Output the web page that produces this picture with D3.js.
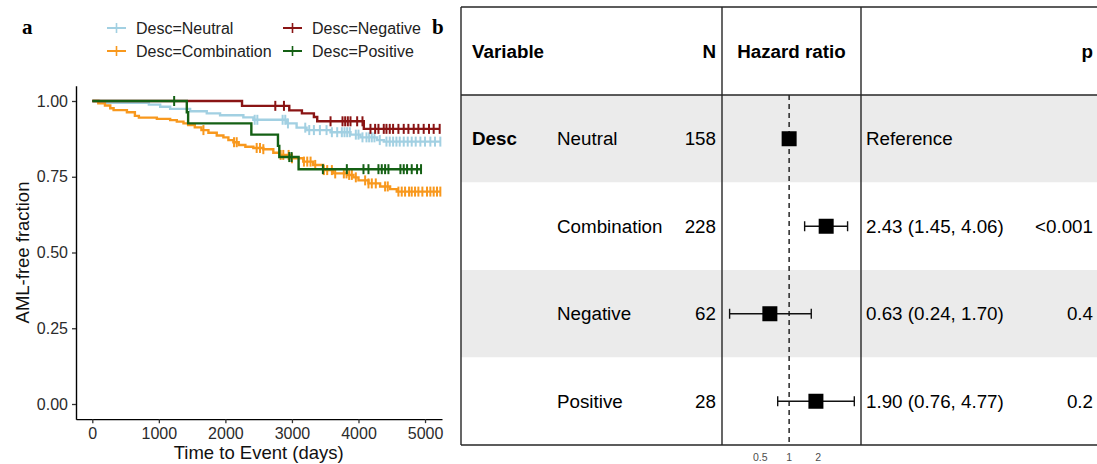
<!DOCTYPE html>
<html>
<head>
<meta charset="utf-8">
<script src="https://cdn.jsdelivr.net/npm/d3@7"></script>
<style>
  body { margin: 0; background: #fff; }
  svg { display: block; font-family: "Liberation Sans", Arial, sans-serif; }
</style>
</head>
<body>
<svg id="chart" width="1097" height="464"></svg>
<script>
// ---- panel a: Kaplan-Meier data ----
var groups = ["Neutral", "Combination", "Negative", "Positive"];
var groupColors = ["#a2d0e2", "#f8981d", "#8a1414", "#146014"];

var neutralTimes = [100, 850, 1020, 1170, 1470, 1720, 1920, 2270, 2420, 2920, 3070, 3220, 3580, 3880, 4030, 4280, 4380];
var neutralSurv = [0.994, 0.988, 0.981, 0.974, 0.966, 0.959, 0.953, 0.946, 0.938, 0.926, 0.912, 0.904, 0.897, 0.889, 0.880, 0.871, 0.866];
var neutralCensor = [2440, 2480, 2860, 2900, 2940, 3200, 3260, 3330, 3420, 3520, 3600, 3680, 3750, 3790, 3830, 3870, 3960, 4000, 4060, 4120, 4160, 4200, 4240, 4320, 4420, 4470, 4520, 4570, 4620, 4680, 4740, 4800, 4860, 4930, 5000, 5080, 5150, 5230];

var combinationTimes = [90, 190, 270, 320, 520, 640, 700, 970, 1170, 1270, 1370, 1440, 1540, 1640, 1745, 1870, 1970, 2045, 2120, 2200, 2300, 2420, 2570, 2720, 2820, 2970, 3170, 3320, 3470, 3620, 3830, 3925, 4000, 4150, 4325, 4475, 4575];
var combinationSurv = [0.992, 0.985, 0.976, 0.970, 0.963, 0.951, 0.945, 0.941, 0.937, 0.932, 0.926, 0.921, 0.913, 0.904, 0.895, 0.886, 0.880, 0.871, 0.864, 0.855, 0.849, 0.845, 0.841, 0.829, 0.822, 0.811, 0.800, 0.789, 0.772, 0.761, 0.756, 0.748, 0.738, 0.728, 0.718, 0.709, 0.701];
var combinationCensor = [1670, 2130, 2170, 2470, 2520, 2570, 2830, 2870, 2950, 3000, 3180, 3230, 3280, 3350, 3480, 3530, 3600, 3650, 3780, 3820, 3860, 3900, 3960, 4100, 4150, 4200, 4260, 4400, 4440, 4600, 4650, 4700, 4760, 4800, 4850, 4900, 4960, 5030, 5080, 5130, 5180, 5230];

var negativeTimes = [2250, 2960, 3150, 3330, 3380, 4080];
var negativeSurv = [0.984, 0.969, 0.959, 0.947, 0.933, 0.908];
var negativeCensor = [2750, 2880, 3580, 3760, 3800, 3840, 3880, 3980, 4060, 4180, 4250, 4300, 4380, 4420, 4470, 4520, 4600, 4680, 4750, 4830, 4900, 4980, 5060, 5130, 5220];

var positiveTimes = [1420, 1440, 2390, 2790, 2810, 3100];
var positiveSurv = [0.963, 0.926, 0.889, 0.852, 0.815, 0.775];
var positiveCensor = [1230, 2960, 2995, 3465, 3825, 4075, 4150, 4300, 4350, 4400, 4450, 4630, 4680, 4730, 4800, 4880, 4940];

var kmXTicks = [0, 1000, 2000, 3000, 4000, 5000];
var kmYTicks = [0, 0.25, 0.5, 0.75, 1];

// ---- panel b: forest plot data ----
var levels = ["Neutral", "Combination", "Negative", "Positive"];
var nPatients = [158, 228, 62, 28];
var hr = [1, 2.43, 0.63, 1.90];
var hrLow = [null, 1.45, 0.24, 0.76];
var hrHigh = [null, 4.06, 1.70, 4.77];
var hrText = ["Reference", "2.43 (1.45, 4.06)", "0.63 (0.24, 1.70)", "1.90 (0.76, 4.77)"];
var pText = ["", "<0.001", "0.4", "0.2"];
var hrTicks = [0.5, 1, 2];

var svg = d3.select("#chart");

// ================= panel a =================
var xScale = d3.scaleLinear().domain([-245, 5255]).range([76, 442]);
var yScale = d3.scaleLinear().domain([-0.05, 1.05]).range([419.15, 85.85]);

var curves = [
  {name: "Neutral", times: neutralTimes, surv: neutralSurv, censor: neutralCensor},
  {name: "Combination", times: combinationTimes, surv: combinationSurv, censor: combinationCensor},
  {name: "Negative", times: negativeTimes, surv: negativeSurv, censor: negativeCensor},
  {name: "Positive", times: positiveTimes, surv: positiveSurv, censor: positiveCensor}
];

function survAt(c, t) {
  var s = 1;
  c.times.forEach(function(ti, i) { if (ti <= t) s = c.surv[i]; });
  return s;
}

var line = d3.line()
    .x(d => xScale(d[0]))
    .y(d => yScale(d[1]))
    .curve(d3.curveStepAfter);

var gA = svg.append("g");

curves.forEach(function(c, k) {
  var end = d3.max(c.censor.concat(c.times));
  var pts = [[0, 1]].concat(c.times.map((t, i) => [t, c.surv[i]]));
  pts.push([end, c.surv[c.surv.length - 1]]);
  var col = groupColors[k];
  gA.append("path")
      .attr("d", line(pts))
      .attr("fill", "none")
      .attr("stroke", col)
      .attr("stroke-width", 2.4);
  gA.selectAll(null)
    .data(c.censor)
    .enter().append("line")
      .attr("x1", d => xScale(d))
      .attr("x2", d => xScale(d))
      .attr("y1", d => yScale(survAt(c, d)) - 5)
      .attr("y2", d => yScale(survAt(c, d)) + 5)
      .attr("stroke", col)
      .attr("stroke-width", 2);
});

var xAxis = d3.axisBottom(xScale).tickValues(kmXTicks).tickFormat(d3.format("d"))
    .tickSize(4).tickSizeOuter(0).tickPadding(4);
var yAxis = d3.axisLeft(yScale).tickValues(kmYTicks).tickFormat(d3.format(".2f"))
    .tickSize(4).tickSizeOuter(0).tickPadding(4);

var gx = svg.append("g").attr("transform", "translate(0,419.15)").call(xAxis);
var gy = svg.append("g").attr("transform", "translate(76,0)").call(yAxis);
[gx, gy].forEach(function(g) {
  g.select(".domain").attr("stroke", "#000").attr("stroke-width", 1.4);
  g.selectAll(".tick line").attr("stroke", "#333").attr("stroke-width", 1.3);
  g.selectAll(".tick text").attr("font-size", 16).attr("fill", "#2b2b2b")
    .attr("font-family", "Liberation Sans, Arial, sans-serif");
});

svg.append("text")
    .attr("x", xScale(2500)).attr("y", 459)
    .attr("text-anchor", "middle")
    .attr("font-size", 18.5).attr("fill", "#111")
    .text("Time to Event (days)");

svg.append("text")
    .attr("transform", "translate(29," + yScale(0.5) + ") rotate(-90)")
    .attr("text-anchor", "middle")
    .attr("font-size", 18.5).attr("fill", "#111")
    .text("AML-free fraction");

// legend (filled column-wise, 2 columns)
var legend = svg.append("g");
groups.forEach(function(g, i) {
  var lx = i < 2 ? 107 : 283, ly = i % 2 === 0 ? 28 : 51;
  var it = legend.append("g").attr("transform", "translate(" + lx + "," + ly + ")");
  it.append("line").attr("x1", 0).attr("x2", 19).attr("y1", 0).attr("y2", 0)
    .attr("stroke", groupColors[i]).attr("stroke-width", 2);
  it.append("line").attr("x1", 9.5).attr("x2", 9.5).attr("y1", -5).attr("y2", 5)
    .attr("stroke", groupColors[i]).attr("stroke-width", 1.6);
  it.append("text").attr("x", 29).attr("y", 0).attr("dy", "0.35em")
    .attr("font-size", 16).attr("fill", "#222")
    .text("Desc=" + g);
});

// panel letters
svg.append("text").attr("x", 22).attr("y", 34)
    .attr("font-family", "Liberation Serif, Times New Roman, serif")
    .attr("font-weight", "bold").attr("font-size", 21).text("a");
svg.append("text").attr("x", 432).attr("y", 34)
    .attr("font-family", "Liberation Serif, Times New Roman, serif")
    .attr("font-weight", "bold").attr("font-size", 21).text("b");

// ================= panel b =================
var tblLeft = 461, tblRight = 1097, tblTop = 7, headBottom = 95, tblBottom = 445;
var colN = 722, colEst = 861;
var rowScale = d3.scaleBand().domain(levels).range([headBottom, tblBottom]);
var hrScale = d3.scaleLog().domain([0.2, 5.6]).range([colN, colEst]);

var gB = svg.append("g");
var lineCol = "#262626";

gB.selectAll(".band")
  .data(levels)
  .enter().append("rect")
    .attr("x", tblLeft).attr("width", tblRight - tblLeft)
    .attr("y", d => rowScale(d)).attr("height", rowScale.bandwidth())
    .attr("fill", (d, i) => i % 2 === 0 ? "#ebebeb" : "#fff");

// grid lines
[[tblLeft, tblTop, tblRight + 5, tblTop],
 [tblLeft, headBottom, tblRight + 5, headBottom],
 [tblLeft, tblBottom, tblRight + 5, tblBottom]].forEach(function(l) {
  gB.append("line").attr("x1", l[0]).attr("y1", l[1]).attr("x2", l[2]).attr("y2", l[3])
    .attr("stroke", lineCol).attr("stroke-width", 1.4);
});
[tblLeft, colN, colEst].forEach(function(x) {
  gB.append("line").attr("x1", x).attr("x2", x).attr("y1", tblTop).attr("y2", tblBottom)
    .attr("stroke", lineCol).attr("stroke-width", 1.4);
});

// reference line
gB.append("line")
    .attr("x1", hrScale(1)).attr("x2", hrScale(1))
    .attr("y1", headBottom).attr("y2", tblBottom)
    .attr("stroke", lineCol).attr("stroke-width", 1.5)
    .attr("stroke-dasharray", "5,4");

// header
var headY = 51, fs = 18.8;
gB.append("text").attr("x", 472).attr("y", headY).attr("dy", "0.35em")
  .attr("font-size", fs).attr("font-weight", "bold").text("Variable");
gB.append("text").attr("x", 716).attr("y", headY).attr("dy", "0.35em")
  .attr("text-anchor", "end").attr("font-size", fs).attr("font-weight", "bold").text("N");
gB.append("text").attr("x", (colN + colEst) / 2).attr("y", headY).attr("dy", "0.35em")
  .attr("text-anchor", "middle").attr("font-size", fs).attr("font-weight", "bold").text("Hazard ratio");
gB.append("text").attr("x", 1093).attr("y", headY).attr("dy", "0.35em")
  .attr("text-anchor", "end").attr("font-size", fs).attr("font-weight", "bold").text("p");

gB.append("text").attr("x", 472).attr("y", rowScale(levels[0]) + rowScale.bandwidth() / 2)
  .attr("dy", "0.35em").attr("font-size", fs).attr("font-weight", "bold").text("Desc");

levels.forEach(function(lv, i) {
  var cy = rowScale(lv) + rowScale.bandwidth() / 2;
  gB.append("text").attr("x", 557).attr("y", cy).attr("dy", "0.35em")
    .attr("font-size", fs).text(lv);
  gB.append("text").attr("x", 716).attr("y", cy).attr("dy", "0.35em")
    .attr("text-anchor", "end").attr("font-size", fs).text(nPatients[i]);
  gB.append("text").attr("x", 866).attr("y", cy).attr("dy", "0.35em")
    .attr("font-size", fs).text(hrText[i]);
  gB.append("text").attr("x", 1093).attr("y", cy).attr("dy", "0.35em")
    .attr("text-anchor", "end").attr("font-size", fs).text(pText[i]);

  if (hrLow[i] !== null) {
    var x0 = hrScale(hrLow[i]), x1 = hrScale(hrHigh[i]);
    gB.append("line").attr("x1", x0).attr("x2", x1).attr("y1", cy).attr("y2", cy)
      .attr("stroke", "#111").attr("stroke-width", 1.4);
    [x0, x1].forEach(function(x) {
      gB.append("line").attr("x1", x).attr("x2", x).attr("y1", cy - 5).attr("y2", cy + 5)
        .attr("stroke", "#111").attr("stroke-width", 1.4);
    });
  }
  gB.append("rect")
    .attr("x", hrScale(hr[i]) - 7.5).attr("y", cy - 7.5)
    .attr("width", 15).attr("height", 15)
    .attr("fill", "#000");
});

gB.selectAll(".hrtick")
  .data(hrTicks)
  .enter().append("text")
    .attr("x", d => hrScale(d)).attr("y", 461)
    .attr("text-anchor", "middle")
    .attr("font-size", 10.5).attr("fill", "#4d4d4d")
    .text(d => d);
</script>
</body>
</html>
